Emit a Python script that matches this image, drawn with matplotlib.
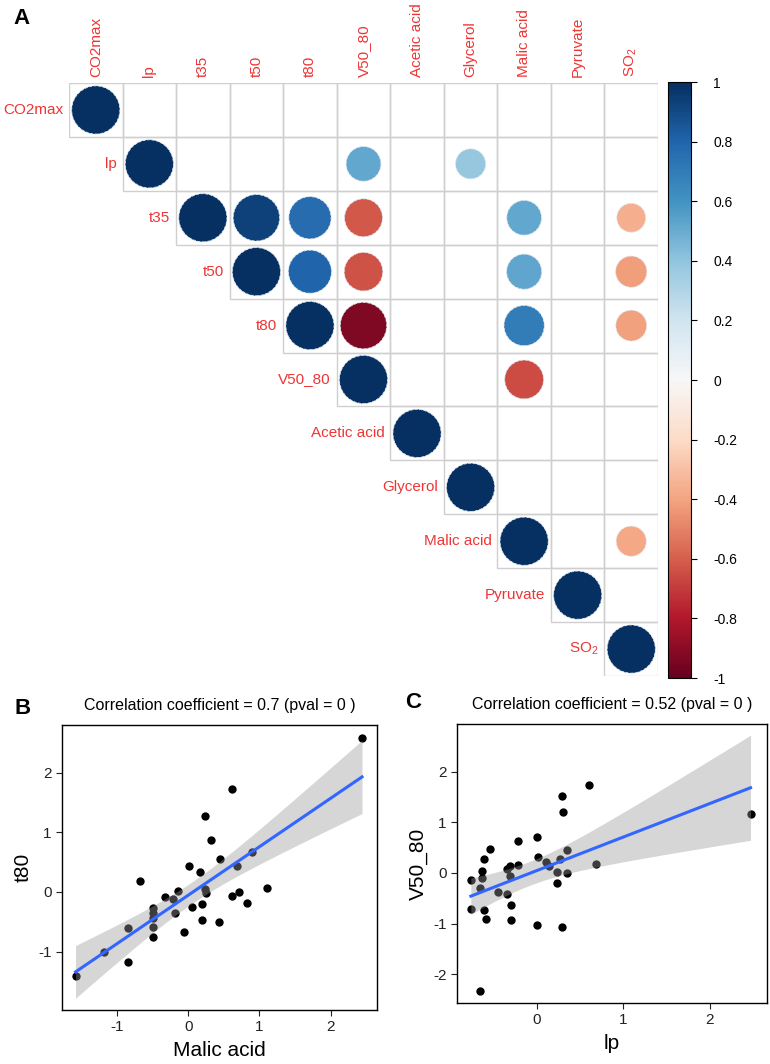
import matplotlib

matplotlib.use("Agg")

import matplotlib.pyplot as plt  # noqa: E402
import numpy as np  # noqa: E402
from matplotlib import rc  # noqa: E402
from matplotlib.cm import ScalarMappable  # noqa: E402
from matplotlib.colors import Normalize  # noqa: E402
from matplotlib.patches import Rectangle  # noqa: E402
from matplotlib.ticker import MultipleLocator  # noqa: E402

rc("font", family=["Liberation Sans", "DejaVu Sans"])
rc("mathtext", default="regular")
rc("axes", unicode_minus=False)

# ---- panel A: significant correlations (upper triangle, others left blank)
variables = ["CO2max", "lp", "t35", "t50", "t80", "V50_80", "Acetic acid",
             "Glycerol", "Malic acid", "Pyruvate", "SO$_2$"]
corr_row = ["lp", "lp", "t35", "t35", "t35", "t35", "t35", "t50", "t50", "t50",
            "t50", "t80", "t80", "t80", "V50_80", "Malic acid"]
corr_col = ["V50_80", "Glycerol", "t50", "t80", "V50_80", "Malic acid", "SO$_2$",
            "t80", "V50_80", "Malic acid", "SO$_2$", "V50_80", "Malic acid", "SO$_2$",
            "Malic acid", "SO$_2$"]
corr_val = [0.52, 0.39, 0.93, 0.77, -0.62, 0.52, -0.36, 0.80, -0.64, 0.53, -0.42,
            -0.93, 0.70, -0.41, -0.65, -0.39]

# ---- panel B: Malic acid vs t80
malic = [2.44, 0.61, 0.23, 0.32, 0.45, 0.89, 0.68, 0.01, 0.16, -0.67, -0.32, -0.21,
         -0.14, 0.24, 0.25, 0.71, 1.10, 0.61, 0.83, 0.20, 0.06, -0.50, -0.49, -0.18,
         -0.49, -0.49, 0.20, 0.43, -0.85, -0.06, -0.50, -1.18, -0.85, -1.58]
t80 = [2.59, 1.72, 1.27, 0.87, 0.56, 0.67, 0.44, 0.43, 0.33, 0.19, -0.08, -0.12,
       0.01, 0.05, -0.02, 0.00, 0.06, -0.06, -0.18, -0.21, -0.25, -0.27, -0.35, -0.36,
       -0.44, -0.58, -0.47, -0.50, -0.61, -0.68, -0.76, -1.00, -1.18, -1.41]

# ---- panel C: lp vs V50_80
lp = [2.47, 0.60, 0.29, 0.30, 0.00, -0.21, -0.54, -0.61, 0.02, 0.11, 0.35, 0.27,
      0.68, -0.21, -0.31, -0.34, -0.63, 0.14, 0.23, 0.35, -0.76, -0.63, -0.31, -0.66,
      -0.45, -0.34, 0.23, -0.30, -0.76, -0.61, -0.58, -0.30, 0.00, 0.29, -0.65]
v50_80 = [1.16, 1.73, 1.51, 1.20, 0.70, 0.62, 0.48, 0.28, 0.31, 0.21, 0.45, 0.27,
          0.18, 0.16, 0.13, 0.08, 0.03, 0.13, 0.02, -0.01, -0.15, -0.11, -0.06, -0.30,
          -0.38, -0.42, -0.20, -0.63, -0.72, -0.74, -0.92, -0.94, -1.03, -1.07, -2.33]

W, H = 770, 1064
LABEL_RED = "#EE3535"


def px(x0, y0, w, h):
    return [x0 / W, 1 - (y0 + h) / H, w / W, h / H]


def scatter_panel(ax, x, y, title, xlabel, ylabel, xlim, ylim):
    x = np.asarray(x)
    y = np.asarray(y)
    ax.scatter(x, y, s=36, color="black", lw=0, zorder=2)

    slope, icpt = np.polyfit(x, y, 1)
    xs = np.linspace(x.min(), x.max(), 100)
    fit = icpt + slope * xs
    resid = y - (icpt + slope * x)
    s = np.sqrt(np.sum(resid ** 2) / (len(x) - 2))
    se = s * np.sqrt(1 / len(x) + (xs - x.mean()) ** 2 / np.sum((x - x.mean()) ** 2))
    tcrit = 2.035  # t(0.975, ~32 df)
    ax.fill_between(xs, fit - tcrit * se, fit + tcrit * se, color="#999999",
                    alpha=0.4, lw=0, zorder=3)
    ax.plot(xs, fit, color="#3366FF", lw=2.2, zorder=4)

    ax.set_xlim(*xlim)
    ax.set_ylim(*ylim)
    ax.xaxis.set_major_locator(MultipleLocator(1))
    ax.yaxis.set_major_locator(MultipleLocator(1))

    for sp in ax.spines.values():
        sp.set_linewidth(1.0)
    ax.tick_params(direction="out", length=4, width=0.8, labelsize=11,
                   colors="#222222")
    ax.set_title(title, fontsize=11.5, pad=11)
    ax.set_xlabel(xlabel, fontsize=15, labelpad=5)
    ax.set_ylabel(ylabel, fontsize=15, labelpad=4)


fig = plt.figure(figsize=(W / 100, H / 100), dpi=100)

# panel A
n = len(variables)
ax = fig.add_axes(px(69, 83, 589, 593))
ax.set_xlim(0, n)
ax.set_ylim(n, 0)
ax.axis("off")
for i in range(n):
    for j in range(i, n):
        ax.add_patch(Rectangle((j, i), 1, 1, fill=False, ec="#CFCFCF", lw=1))

cmap = plt.get_cmap("RdBu")
norm = Normalize(-1, 1)
rows = list(range(n)) + [variables.index(r) for r in corr_row]
cols = list(range(n)) + [variables.index(c) for c in corr_col]
vals = [1.0] * n + corr_val
cell_pt = 589 / n * 0.72
sizes = [(0.9 * cell_pt * np.sqrt(abs(v))) ** 2 for v in vals]
ax.scatter(np.array(cols) + 0.5, np.array(rows) + 0.5, s=sizes, c=vals, cmap=cmap,
           norm=norm, edgecolors="#dfe6f0", linewidths=0.6, linestyles="--",
           zorder=3, clip_on=False)

for i, name in enumerate(variables):
    ax.text(i - 0.11, i + 0.5, name, ha="right", va="center", color=LABEL_RED,
            fontsize=11)
    ax.text(i + 0.5, -0.11, name, ha="center", va="bottom", rotation=90,
            color=LABEL_RED, fontsize=11)

cax = fig.add_axes(px(668, 82, 23, 596))
cb = fig.colorbar(ScalarMappable(norm=norm, cmap=cmap), cax=cax,
                  ticks=np.linspace(-1, 1, 11))
cb.ax.set_yticklabels(["%g" % (round(t, 1) + 0.0) for t in np.linspace(-1, 1, 11)])
cb.ax.tick_params(length=4, width=0.8, pad=12, labelsize=10)
cb.outline.set_linewidth(0.8)

fig.text(22 / W, 1 - 18 / H, "A", fontsize=16, fontweight="bold", ha="center",
         va="center")

# panel B
axb = fig.add_axes(px(62, 725, 315, 285))
scatter_panel(axb, malic, t80, "Correlation coefficient = 0.7 (pval = 0 )",
              "Malic acid", "t80", (-1.77, 2.65), (-1.98, 2.80))
fig.text(23 / W, 1 - 709 / H, "B", fontsize=16, fontweight="bold", ha="center",
         va="center")

# panel C
axc = fig.add_axes(px(457, 724, 310, 279))
scatter_panel(axc, lp, v50_80, "Correlation coefficient = 0.52 (pval = 0 )",
              "lp", "V50_80", (-0.92, 2.66), (-2.57, 2.94))
fig.text(413 / W, 1 - 703 / H, "C", fontsize=16, fontweight="bold", ha="center",
         va="center")

fig.savefig("out.png", dpi=100)
